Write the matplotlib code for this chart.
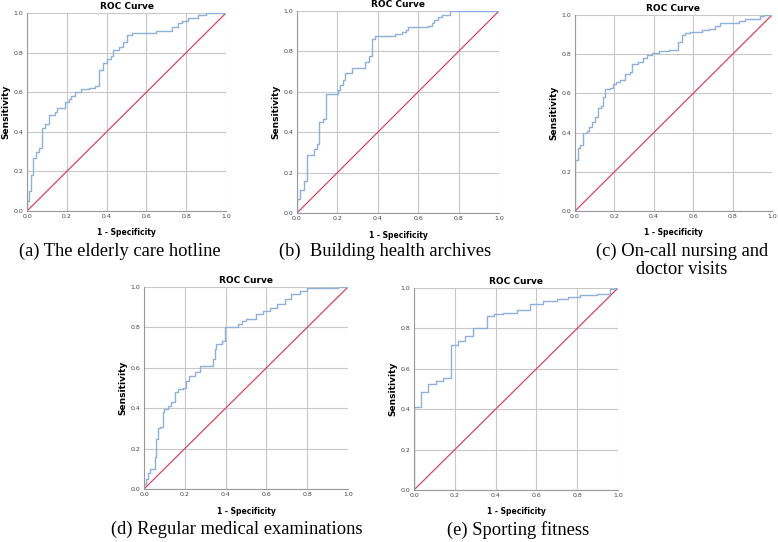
import matplotlib
matplotlib.use('Agg')
import matplotlib.pyplot as plt

# ROC curve corner points (1 - specificity, sensitivity)
fpr_a = [0, 0, 0.01, 0.02, 0.03, 0.045, 0.06, 0.073, 0.09, 0.11, 0.14, 0.15, 0.19, 0.21,
         0.22, 0.24, 0.27, 0.31, 0.34, 0.36, 0.363, 0.38, 0.40, 0.42, 0.43, 0.46, 0.48,
         0.50, 0.53, 0.65, 0.73, 0.76, 0.78, 0.81, 0.86, 0.90, 1.0]
tpr_a = [0, 0.05, 0.10, 0.18, 0.27, 0.30, 0.32, 0.42, 0.44, 0.485, 0.50, 0.52, 0.55, 0.565,
         0.58, 0.60, 0.615, 0.62, 0.63, 0.645, 0.71, 0.745, 0.77, 0.785, 0.815, 0.83, 0.855,
         0.89, 0.90, 0.91, 0.93, 0.95, 0.96, 0.975, 0.99, 1.0, 1.0]

fpr_b = [0, 0, 0.016, 0.033, 0.05, 0.082, 0.10, 0.11, 0.13, 0.145, 0.205, 0.214, 0.23, 0.24,
         0.27, 0.337, 0.354, 0.37, 0.387, 0.485, 0.52, 0.54, 0.55, 0.65, 0.666, 0.68, 0.70,
         0.72, 0.757, 1.0]
tpr_b = [0, 0.07, 0.115, 0.157, 0.287, 0.317, 0.343, 0.449, 0.465, 0.589, 0.61, 0.635, 0.66,
         0.693, 0.718, 0.75, 0.779, 0.861, 0.878, 0.886, 0.896, 0.907, 0.919, 0.927, 0.94,
         0.957, 0.97, 0.98, 1.0, 1.0]

fpr_c = [0, 0, 0.014, 0.025, 0.042, 0.06, 0.071, 0.085, 0.10, 0.115, 0.13, 0.144, 0.153,
         0.178, 0.195, 0.21, 0.23, 0.254, 0.28, 0.29, 0.32, 0.347, 0.364, 0.39, 0.424, 0.475,
         0.525, 0.542, 0.56, 0.585, 0.644, 0.678, 0.712, 0.737, 0.83, 0.864, 0.94, 0.957, 1.0]
tpr_c = [0, 0.26, 0.32, 0.336, 0.396, 0.41, 0.43, 0.453, 0.48, 0.526, 0.535, 0.58, 0.62,
         0.625, 0.647, 0.66, 0.67, 0.70, 0.71, 0.752, 0.76, 0.783, 0.795, 0.808, 0.817, 0.823,
         0.862, 0.898, 0.908, 0.913, 0.921, 0.93, 0.946, 0.96, 0.97, 0.978, 0.995, 1.0, 1.0]

fpr_d = [0, 0, 0.008, 0.02, 0.028, 0.052, 0.06, 0.07, 0.077, 0.093, 0.10, 0.118, 0.134, 0.15,
         0.167, 0.19, 0.205, 0.22, 0.25, 0.273, 0.34, 0.347, 0.355, 0.38, 0.396, 0.46, 0.478,
         0.50, 0.55, 0.584, 0.617, 0.65, 0.69, 0.723, 0.764, 0.797, 0.953, 1.0]
tpr_d = [0, 0.025, 0.05, 0.08, 0.10, 0.157, 0.247, 0.30, 0.305, 0.38, 0.395, 0.41, 0.43, 0.478,
         0.494, 0.50, 0.535, 0.56, 0.577, 0.61, 0.643, 0.692, 0.717, 0.733, 0.80, 0.815, 0.832,
         0.84, 0.865, 0.88, 0.898, 0.914, 0.939, 0.964, 0.98, 0.997, 1.0, 1.0]

fpr_e = [0, 0, 0.036, 0.069, 0.11, 0.143, 0.18, 0.216, 0.25, 0.287, 0.356, 0.39, 0.438, 0.503,
         0.57, 0.634, 0.70, 0.757, 0.815, 0.897, 0.962, 0.979, 1.0]
tpr_e = [0, 0.413, 0.484, 0.524, 0.54, 0.554, 0.719, 0.739, 0.76, 0.80, 0.863, 0.871, 0.876,
         0.893, 0.921, 0.934, 0.947, 0.955, 0.967, 0.972, 0.995, 1.0, 1.0]

captions = ['(a) The elderly care hotline', '(b)  Building health archives',
            '(c) On-call nursing and\ndoctor visits', '(d) Regular medical examinations',
            '(e) Sporting fitness']
ticks = [0.0, 0.2, 0.4, 0.6, 0.8, 1.0]

W, H = 778, 542
# axes boxes in pixels: left, top, right, bottom
boxes = [(27, 13, 226, 211), (297, 11, 499, 213), (575, 15, 772, 211),
         (144, 287, 348, 489), (414, 288, 618, 490)]
# caption anchor (centre x, top y of first line)
cap_pos = [(120, 243), (385, 243), (682, 243), (237, 521), (518, 521)]

curves = [(fpr_a, tpr_a), (fpr_b, tpr_b), (fpr_c, tpr_c), (fpr_d, tpr_d), (fpr_e, tpr_e)]

fig = plt.figure(figsize=(W / 100, H / 100), dpi=100)
for (x, y), box, cap, cp in zip(curves, boxes, captions, cap_pos):
    l, t, r, b = box
    w, h = r - l, b - t
    ax = fig.add_axes([l / W, 1 - b / H, w / W, h / H])
    ax.plot(ticks, ticks, color='#d2475f', lw=0.9)
    ax.plot(x, y, drawstyle='steps-post', color='#8fb0db', lw=1.0)
    ax.set_xlim(0, 1)
    ax.set_ylim(0, 1)
    ax.set_xticks(ticks)
    ax.set_yticks(ticks)
    ax.set_xticklabels(['%.1f' % v for v in ticks])
    ax.set_yticklabels(['%.1f' % v for v in ticks])
    ax.tick_params(labelsize=4.5, length=0, pad=2.5, colors='#444444')
    ax.grid(True, color='#c8c8c8', lw=0.8)
    ax.set_axisbelow(True)
    for s in ['top', 'right']:
        ax.spines[s].set_visible(False)
    for s in ['left', 'bottom']:
        ax.spines[s].set_color('#999999')
        ax.spines[s].set_linewidth(0.8)
    ax.set_title('ROC Curve', fontsize=6.5, fontweight='bold', pad=3)
    ax.set_xlabel('1 - Specificity', fontsize=5.5, fontweight='bold')
    ax.set_ylabel('Sensitivity', fontsize=6.5, fontweight='bold')
    ax.xaxis.set_label_coords(0.5, -22 / h)
    ax.yaxis.set_label_coords(-21 / w, 0.5)
    ax.xaxis.label.set_va('center')
    ax.yaxis.label.set_va('center')
    fig.text(cp[0] / W, 1 - cp[1] / H, cap, ha='center', va='top',
             fontsize=13.3, family='Liberation Serif', linespacing=1.05)

fig.savefig('out.png', dpi=100)
